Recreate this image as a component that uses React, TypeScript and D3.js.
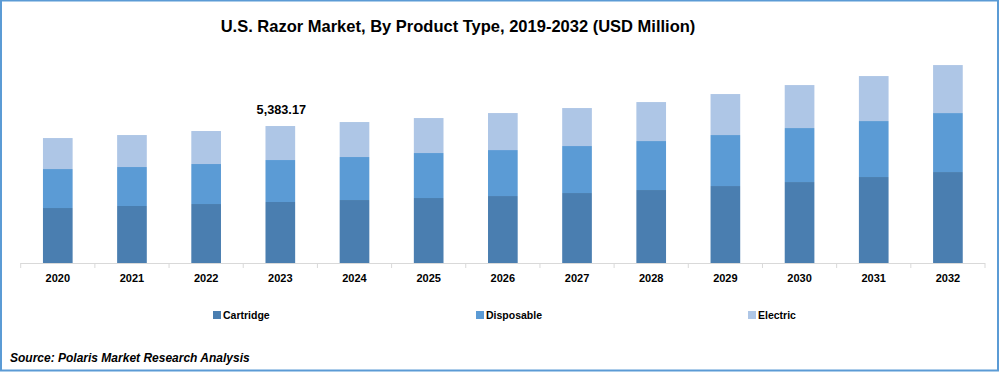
import React from 'react';
import * as d3 from 'd3';

const years = ['2020', '2021', '2022', '2023', '2024', '2025', '2026', '2027', '2028', '2029', '2030', '2031', '2032'];
const cartridge = [2161, 2240, 2318, 2397, 2475, 2554, 2632, 2750, 2868, 3025, 3182, 3379, 3575];
const disposable = [1532, 1532, 1572, 1650, 1690, 1768, 1807, 1847, 1925, 2004, 2122, 2200, 2318];
const electric = [1218, 1257, 1297, 1336.17, 1375, 1375, 1454, 1493, 1532, 1611, 1689, 1768, 1886];
const seriesNames = ['Cartridge', 'Disposable', 'Electric'];
const colors = ['#4a7eb0', '#5b9bd5', '#aec6e6'];
const labelYear = '2023';
const labelText = '5,383.17';

const W = 1000;
const H = 372;
const font = '"Liberation Sans Narrow", "Liberation Sans", Arial, sans-serif';

const App = () => {
  const margin = { left: 20.7, right: 15, top: 34, bottom: 263 };

  const x = d3.scaleBand<string>()
    .domain(years)
    .range([margin.left, W - margin.right])
    .paddingInner(0.6)
    .paddingOuter(0.3);

  const y = d3.scaleLinear().domain([0, 9000]).range([margin.bottom, margin.top]);

  const table = years.map((yr, i) => ({
    year: yr,
    Cartridge: cartridge[i],
    Disposable: disposable[i],
    Electric: electric[i],
  }));
  const stacked = d3.stack<any>().keys(seriesNames)(table);

  // category boundaries for tick marks
  const step = x.step();
  const start = x.range()[0];
  const bounds = d3.range(years.length + 1).map(i => start + i * step);

  const labelIdx = years.indexOf(labelYear);
  const labelTop = stacked[stacked.length - 1][labelIdx][1];

  const legendX = [213, 476, 748];

  return (
    <svg width={W} height={H} style={{ position: 'absolute', left: 0, top: 0, background: '#fff' }}>
      <rect x={1} y={0.5} width={997} height={370} fill="#fff" stroke="#5b9bd5" strokeWidth={2} />

      <text x={458} y={32} textAnchor="middle" fontFamily={font} fontWeight="bold" fontSize={16.5} fill="#000">
        U.S. Razor Market, By Product Type, 2019-2032 (USD Million)
      </text>

      {stacked.map((s, si) => (
        <g key={s.key} fill={colors[si]}>
          {s.map((d, i) => (
            <rect
              key={years[i]}
              x={x(years[i])}
              y={y(d[1])}
              width={x.bandwidth()}
              height={y(d[0]) - y(d[1])}
            />
          ))}
        </g>
      ))}

      <line x1={bounds[0]} x2={bounds[bounds.length - 1]} y1={y(0) + 0.5} y2={y(0) + 0.5} stroke="#d9d9d9" />
      {bounds.map((b, i) => (
        <line key={i} x1={b} x2={b} y1={y(0)} y2={y(0) + 5} stroke="#d9d9d9" />
      ))}

      {years.map(yr => (
        <text
          key={yr}
          x={(x(yr) as number) + x.bandwidth() / 2}
          y={282}
          textAnchor="middle"
          fontFamily={font}
          fontWeight="bold"
          fontSize={11}
          fill="#000"
        >
          {yr}
        </text>
      ))}

      <text
        x={(x(labelYear) as number) + x.bandwidth() / 2 + 1}
        y={y(labelTop) - 12}
        textAnchor="middle"
        fontFamily={font}
        fontWeight="bold"
        fontSize={12.7}
        fill="#000"
      >
        {labelText}
      </text>

      {seriesNames.map((n, i) => (
        <g key={n}>
          <rect x={legendX[i]} y={311} width={8} height={8} fill={colors[i]} />
          <text x={legendX[i] + 10} y={319} fontFamily={font} fontWeight="bold" fontSize={10.5} fill="#000">
            {n}
          </text>
        </g>
      ))}

      <text x={10} y={362} fontFamily={font} fontWeight="bold" fontStyle="italic" fontSize={12} fill="#000">
        Source: Polaris  Market Research Analysis
      </text>
    </svg>
  );
};

export default App;
